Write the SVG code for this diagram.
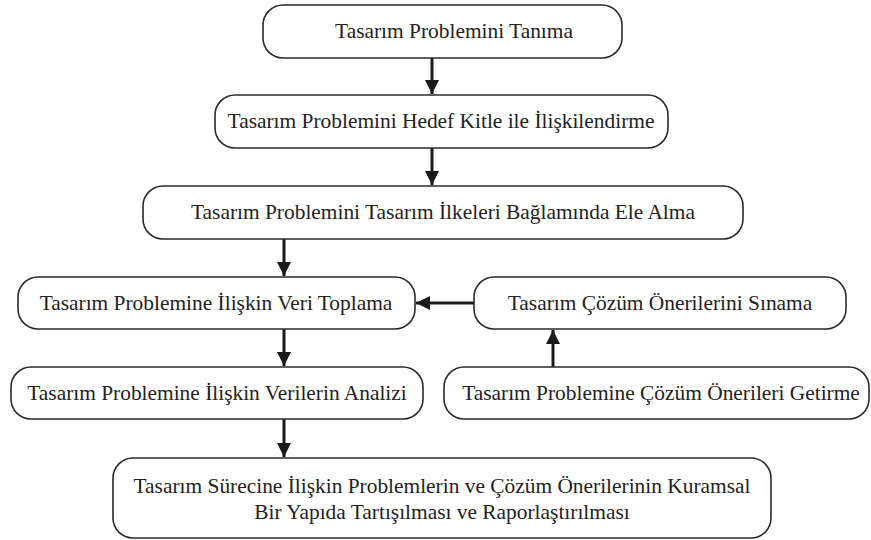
<svg xmlns="http://www.w3.org/2000/svg" width="871" height="540" viewBox="0 0 871 540">
<defs>
<style>
.box{fill:#fff;stroke:#2a2a2a;stroke-width:1.6}
.t{font-family:"Liberation Serif","Times New Roman",serif;font-size:21.4px;fill:#222;text-anchor:middle}
.c{stroke:#1a1a1a;stroke-width:3;fill:none}
</style>
<marker id="ah" viewBox="0 0 10 10" refX="10" refY="5" markerWidth="4.8" markerHeight="4.8" markerUnits="strokeWidth" orient="auto">
<path d="M0,0 L10,5 L0,10 Z" fill="#1a1a1a"/>
</marker>
</defs>
<rect width="871" height="540" fill="#fff"/>
<g id="connectors">
<line class="c" x1="432" y1="58" x2="432" y2="94" marker-end="url(#ah)"/>
<line class="c" x1="432" y1="148" x2="432" y2="185" marker-end="url(#ah)"/>
<line class="c" x1="284" y1="239" x2="284" y2="276" marker-end="url(#ah)"/>
<line class="c" x1="284" y1="329" x2="284" y2="366" marker-end="url(#ah)"/>
<line class="c" x1="284" y1="419" x2="284" y2="457" marker-end="url(#ah)"/>
<line class="c" x1="474" y1="303" x2="416" y2="303" marker-end="url(#ah)"/>
<line class="c" x1="553" y1="367" x2="553" y2="330" marker-end="url(#ah)"/>
</g>
<g id="n1">
<rect class="box" x="263" y="5" width="359" height="53" rx="20"/>
<text class="t" x="454" y="38">Tasarım Problemini Tanıma</text>
</g>
<g id="n2">
<rect class="box" x="215" y="95" width="453" height="53" rx="20"/>
<text class="t" x="441" y="128">Tasarım Problemini Hedef Kitle ile İlişkilendirme</text>
</g>
<g id="n3">
<rect class="box" x="143" y="186" width="600" height="53" rx="20"/>
<text class="t" x="443" y="219">Tasarım Problemini Tasarım İlkeleri Bağlamında Ele Alma</text>
</g>
<g id="n4">
<rect class="box" x="18" y="277" width="397" height="52" rx="20"/>
<text class="t" x="216" y="310">Tasarım Problemine İlişkin Veri Toplama</text>
</g>
<g id="n5">
<rect class="box" x="11" y="367" width="412" height="52" rx="20"/>
<text class="t" x="217" y="400">Tasarım Problemine İlişkin Verilerin Analizi</text>
</g>
<g id="n6">
<rect class="box" x="474" y="277" width="372" height="52" rx="20"/>
<text class="t" x="660" y="310">Tasarım Çözüm Önerilerini Sınama</text>
</g>
<g id="n7">
<rect class="box" x="444" y="367" width="425" height="52" rx="20"/>
<text class="t" x="661" y="400">Tasarım Problemine Çözüm Önerileri Getirme</text>
</g>
<g id="n8">
<rect class="box" x="113" y="458" width="658" height="80" rx="20"/>
<text class="t" x="442" y="493">Tasarım Sürecine İlişkin Problemlerin ve Çözüm Önerilerinin Kuramsal</text>
<text class="t" x="442" y="519">Bir Yapıda Tartışılması ve Raporlaştırılması</text>
</g>
</svg>
